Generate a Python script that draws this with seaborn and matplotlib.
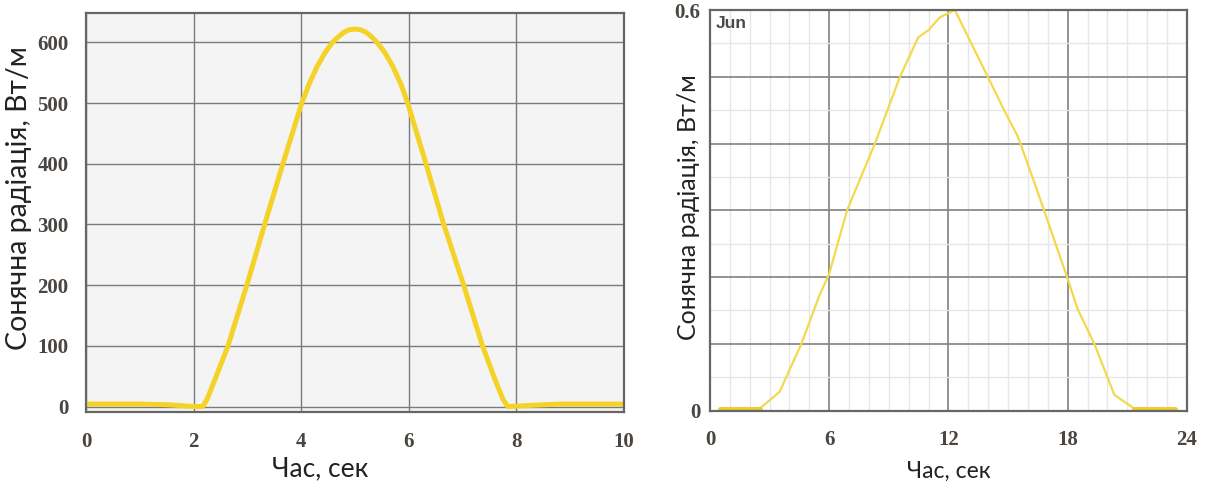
import matplotlib
matplotlib.use("Agg")
import matplotlib.pyplot as plt
import seaborn as sns
import pandas as pd
from matplotlib.ticker import MultipleLocator

# left panel - modelled daily radiation
model_hour = [0, 1.0, 1.5, 2.0, 2.17, 2.25, 2.4, 2.64, 2.99, 3.32, 3.66, 4.01, 4.15, 4.3,
              4.45, 4.58, 4.7, 4.8, 4.9, 5.0, 5.1, 5.2, 5.3, 5.41, 5.55, 5.7, 5.85, 5.98,
              6.32, 6.65, 7.02, 7.37, 7.6, 7.75, 7.84, 8.3, 8.8, 10.0]
model_rad = [4, 4, 3, 0, 0, 12, 45, 100, 200, 300, 400, 500, 532, 561,
             584, 600, 610, 617, 621, 622, 621, 617, 610, 600, 584, 561, 532, 500,
             400, 300, 200, 100, 45, 12, 0, 2, 4, 4]

# right panel - measured radiation, June
june_hour = [0.5, 2.5, 3.5, 4.6, 5.5, 6.0, 6.9, 8.3, 9.56, 10.48, 11.0, 11.57, 12.32,
             13.1, 13.98, 14.8, 15.5, 16.4, 17.97, 18.5, 19.34, 20.35, 21.35, 23.4]
june_rad = [0.003, 0.003, 0.028, 0.1, 0.172, 0.205, 0.3, 0.4, 0.5, 0.559, 0.57, 0.589, 0.6,
            0.553, 0.5, 0.45, 0.41, 0.335, 0.2, 0.152, 0.1, 0.0235, 0.003, 0.003]

model = pd.DataFrame({"hour": model_hour, "rad": model_rad})
june = pd.DataFrame({"hour": june_hour, "rad": june_rad})

sns.set_style("white")
plt.rcParams["font.family"] = ["Liberation Serif", "DejaVu Serif"]

XLABEL = "Час, сек"
YLABEL = "Сонячна радіація, Вт/м"
SANS = ["Lato", "DejaVu Sans"]
TICK_COLOR = "#4a4540"

fig = plt.figure(figsize=(12.06, 4.88), dpi=100)
ax1 = fig.add_axes([0.0713, 0.1564, 0.4461, 0.8176])
ax2 = fig.add_axes([0.5887, 0.1586, 0.3955, 0.8209])

# ---- left panel
ax1.set_facecolor("#f4f4f4")
sns.lineplot(data=model, x="hour", y="rad", ax=ax1, color="#f5d228", lw=3.6,
             solid_capstyle="butt")
ax1.set_xlim(0, 10)
ax1.set_ylim(-8.5, 649)
ax1.xaxis.set_major_locator(MultipleLocator(2))
ax1.yaxis.set_major_locator(MultipleLocator(100))
ax1.grid(True, color="#7a7a7a", lw=1.0)
ax1.set_axisbelow(True)
for s in ax1.spines.values():
    s.set_color("#666666")
    s.set_linewidth(1.6)
ax1.tick_params(axis="both", labelsize=15, colors=TICK_COLOR, length=3,
                direction="inout", width=1)
ax1.tick_params(axis="y", pad=11)
ax1.tick_params(axis="x", pad=13)
for lab in ax1.get_xticklabels() + ax1.get_yticklabels():
    lab.set_fontweight("bold")
ax1.set_xlabel(XLABEL, family=SANS, fontsize=19, color="#222222")
ax1.set_ylabel(YLABEL, family=SANS, fontsize=20.5, color="#222222")
ax1.xaxis.set_label_coords(0.435, -0.112)
ax1.yaxis.set_label_coords(-0.1, 0.535)

# ---- right panel
ax2.set_facecolor("white")
sns.lineplot(data=june, x="hour", y="rad", ax=ax2, color="#f2d94e", lw=1.6)
# night stretches drawn heavier
sns.lineplot(data=june.iloc[:2], x="hour", y="rad", ax=ax2, color="#f0c832", lw=3.5)
sns.lineplot(data=june.iloc[-2:], x="hour", y="rad", ax=ax2, color="#f0c832", lw=3.5)
ax2.set_xlim(0, 24)
ax2.set_ylim(0, 0.6)
ax2.xaxis.set_major_locator(MultipleLocator(6))
ax2.xaxis.set_minor_locator(MultipleLocator(1))
ax2.yaxis.set_minor_locator(MultipleLocator(0.05))
ax2.set_yticks([0, 0.1, 0.2, 0.3, 0.4, 0.5, 0.6])
ax2.set_yticklabels(["0", "", "", "", "", "", "0.6"])
ax2.grid(True, which="major", color="#8a8a8a", lw=1.3)
ax2.grid(True, which="minor", color="#e6e6e6", lw=1.0)
ax2.set_axisbelow(True)
for s in ax2.spines.values():
    s.set_color("#666666")
    s.set_linewidth(1.6)
ax2.tick_params(axis="both", which="major", labelsize=15, colors=TICK_COLOR, length=0, pad=7)
ax2.tick_params(axis="x", which="minor", length=3, direction="out", color="#666666")
ax2.tick_params(axis="y", which="minor", length=0)
ax2.tick_params(axis="x", which="major", pad=14)
for lab in ax2.get_xticklabels() + ax2.get_yticklabels():
    lab.set_fontweight("bold")
ax2.set_xlabel(XLABEL, family=SANS, fontsize=16.5, color="#222222")
ax2.set_ylabel(YLABEL, family=SANS, fontsize=18, color="#222222")
ax2.xaxis.set_label_coords(0.5, -0.125)
ax2.yaxis.set_label_coords(-0.021, 0.508)
ax2.text(0.012, 0.985, "Jun", transform=ax2.transAxes, ha="left", va="top",
         fontsize=12.5, fontweight="bold", color="#4a4a4a",
         family=["Liberation Sans Narrow", "Liberation Sans", "DejaVu Sans"])

fig.savefig("out.png", dpi=100)
